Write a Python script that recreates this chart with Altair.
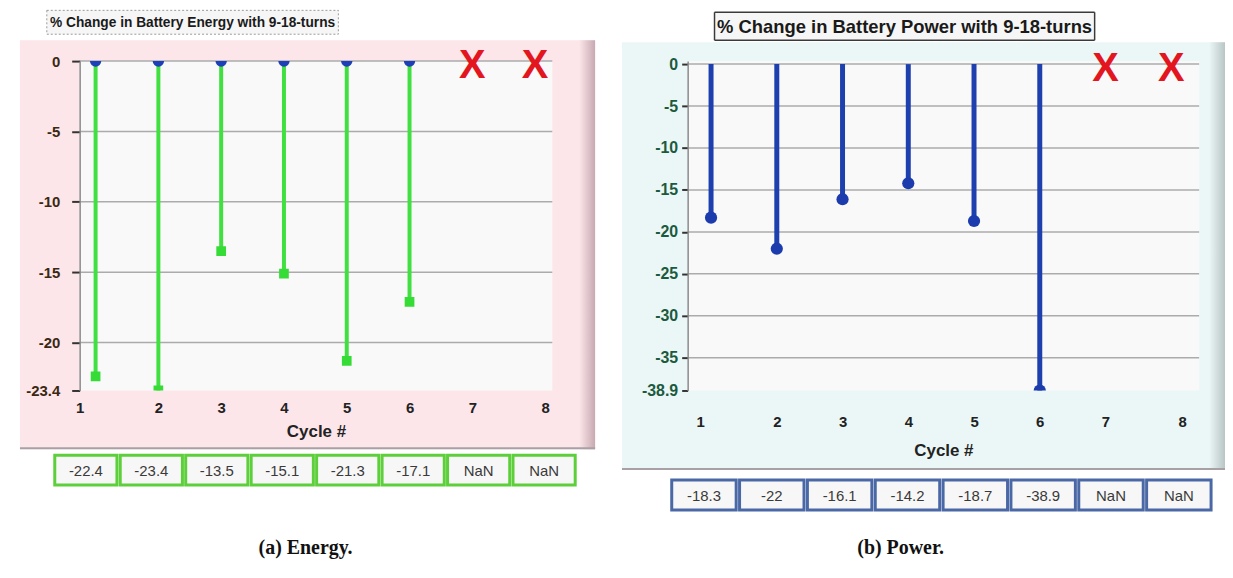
import altair as alt
import pandas as pd

cycles = [1, 2, 3, 4, 5, 6, 7, 8]
energy = [-22.4, -23.4, -13.5, -15.1, -21.3, -17.1, None, None]
power = [-18.3, -22.0, -16.1, -14.2, -18.7, -38.9, None, None]
energy_ticks = [0, -5, -10, -15, -20, -23.4]
power_ticks = [0, -5, -10, -15, -20, -25, -30, -35, -38.9]
titles = ["% Change in Battery Energy with 9-18-turns",
          "% Change in Battery Power with 9-18-turns"]
captions = ["(a) Energy.", "(b) Power."]
x_title = "Cycle #"

SANS = "'Liberation Sans', Arial, sans-serif"
SERIF = "'Liberation Serif', 'Times New Roman', serif"


def fmt(v):
    return "NaN" if v is None else f"{v:g}"


def panel(vals, ticks, title, caption, c):
    W, H = c["W"], c["H"]
    df = pd.DataFrame({"cycle": cycles, "value": vals})
    df["label"] = [fmt(v) for v in vals]
    df["zero"] = 0.0
    grid_df = pd.DataFrame({"tick": ticks[:-1]})

    xs = alt.Scale(domain=c["xdom"], nice=False, zero=False)
    ys = alt.Scale(domain=c["ydom"], nice=False, zero=False)
    xaxis = alt.Axis(
        values=cycles, title=x_title, grid=False, domain=False, ticks=False, zindex=2,
        labelFont=SANS, labelFontSize=15, labelFontWeight="bold", labelColor="#222222",
        labelPadding=c["lpad"], titleFont=SANS, titleFontSize=17, titleFontWeight="bold",
        titleColor="#222222", titlePadding=c["tpad"],
        labelOffset={"condition": [{"test": "datum.value == 1", "value": c["off1"]},
                                   {"test": "datum.value == 8", "value": c["off8"]}],
                     "value": 0},
    )
    yaxis = alt.Axis(
        values=ticks, title=None, grid=False, zindex=2,
        domain=True, domainColor="#8a8a8a", domainWidth=1.5,
        ticks=True, tickSize=c["ytick"], tickColor="#333333", tickWidth=2,
        labelFont=SANS, labelFontSize=c["yfs"], labelFontWeight="bold", labelColor=c["ylab"],
        labelPadding=c["ylpad"], labelExpr="datum.value + ''",
    )
    X = alt.X("cycle:Q", scale=xs, axis=xaxis)
    Y = alt.Y("value:Q", scale=ys, axis=yaxis)
    Y0 = alt.Y("zero:Q", scale=ys, axis=yaxis)

    deco = alt.Chart(pd.DataFrame({"title": [title], "caption": [caption]}))
    bg = deco.mark_rect(fill=c["bg"]).encode(
        x=alt.value(c["bg_x"][0]), x2=alt.value(c["bg_x"][1]),
        y=alt.value(c["bg_y"][0]), y2=alt.value(c["bg_y"][1]))
    edge = deco.mark_rect(fill={"gradient": "linear", "x1": 0, "x2": 1, "y1": 0, "y2": 0,
                                "stops": [{"offset": 0, "color": c["bg"]},
                                          {"offset": 1, "color": c["edge"]}]}).encode(
        x=alt.value(c["bg_x"][1] - 16), x2=alt.value(c["bg_x"][1]),
        y=alt.value(c["bg_y"][0]), y2=alt.value(c["bg_y"][1]))
    bottom = deco.mark_rect(fill="#a8a0a4").encode(
        x=alt.value(c["bg_x"][0]), x2=alt.value(c["bg_x"][1]),
        y=alt.value(c["bg_y"][1] - 2), y2=alt.value(c["bg_y"][1]))
    plotbg = deco.mark_rect(fill="#f9f9fa").encode(
        x=alt.value(0), x2=alt.value(W), y=alt.value(0), y2=alt.value(H))
    tbox = deco.mark_rect(fill="#f6f6f6", stroke=c["tstroke"], strokeWidth=c["tsw"],
                          strokeDash=c["tdash"]).encode(
        x=alt.value(c["tb_x"][0]), x2=alt.value(c["tb_x"][1]),
        y=alt.value(c["tb_y"][0]), y2=alt.value(c["tb_y"][1]))
    ttext = deco.mark_text(font=SANS, fontSize=c["tfs"], fontWeight="bold", color="#1a1a1a",
                           align="center", baseline="middle").encode(
        x=alt.value((c["tb_x"][0] + c["tb_x"][1]) / 2),
        y=alt.value((c["tb_y"][0] + c["tb_y"][1]) / 2 + 1), text="title:N")
    cap = deco.mark_text(font=SERIF, fontSize=20, fontWeight="bold", color="#111111",
                         align="center", baseline="middle").encode(
        x=alt.value(c["cap"][0]), y=alt.value(c["cap"][1]), text="caption:N")

    base = alt.Chart(df)
    valid = base.transform_filter("isValid(datum.value)")
    missing = base.transform_filter("!isValid(datum.value)")
    grid = alt.Chart(grid_df).mark_rule(color=c["grid"], strokeWidth=1.5).encode(
        x=alt.value(0), x2=alt.value(W), y=alt.Y("tick:Q", scale=ys, axis=yaxis))
    stems = valid.mark_rule(color=c["stem"], strokeWidth=c["stem_w"]).encode(
        x=X, y=Y, y2="zero:Q")
    layers = [grid, stems]
    if c.get("top_shape"):
        layers.append(valid.mark_point(shape=c["top_shape"], filled=True, opacity=1,
                                       size=c["top_size"], color=c["top_col"], clip=True)
                      .encode(x=X, y=Y0))
    layers.append(valid.mark_point(shape=c["bot_shape"], filled=True, opacity=1,
                                   size=c["bot_size"], color=c["bot_col"], clip=True)
                  .encode(x=X, y=Y))
    layers.append(missing.mark_text(text="X", font=SANS, fontSize=40, fontWeight="bold",
                                    color="#e3151f", baseline="middle", dy=5)
                  .encode(x=X, y=Y0))
    main = alt.layer(*layers)

    bx = alt.X("cycle:O", axis=None,
               scale=alt.Scale(type="band", range=c["box_x"], paddingInner=0.05, paddingOuter=0))
    boxes = base.mark_rect(fill="#f7f7f7", stroke=c["box_col"], strokeWidth=3).encode(
        x=bx, y=alt.value(c["box_y"][0]), y2=alt.value(c["box_y"][1]))
    btext = base.mark_text(font=SANS, fontSize=15, color="#3a3a3a", baseline="middle").encode(
        x=bx, y=alt.value((c["box_y"][0] + c["box_y"][1]) / 2 + 1), text="label:N")
    boxl = alt.layer(boxes, btext)

    return alt.layer(bg, edge, bottom, plotbg, tbox, ttext, cap, main, boxl).resolve_scale(
        x="independent").properties(width=W, height=H)


left_cfg = dict(
    W=475, H=331, xdom=[0.746, 8.274], ydom=[-23.4, 0],
    bg="#fce6ea", edge="#c7a9b1", bg_x=[-60, 518], bg_y=[-21, 390],
    tb_x=[-33, 260], tb_y=[-51, -27], tstroke="#9a9a9a", tsw=1, tdash=[2, 2], tfs=13.8,
    cap=[227, 489], box_x=[-25, 498], box_y=[396, 426], box_col="#5ccf3a",
    lpad=10, tpad=8, off1=-16, off8=10, ylab="#3a2812", grid="#ababab",
    ytick=8, ylpad=12, yfs=15,
    stem="#3fe03f", stem_w=4,
    top_shape="circle", top_size=130, top_col="#1d3fb8",
    bot_shape="square", bot_size=95, bot_col="#36dc36",
)
right_cfg = dict(
    W=514, H=331, xdom=[0.644, 8.424], ydom=[-38.9, 0.36],
    bg="#ebf7f6", edge="#b9c6c6", bg_x=[-66, 540], bg_y=[-19, 411],
    tb_x=[27, 409], tb_y=[-49, -21], tstroke="#3a3a3a", tsw=1.5, tdash=[1, 0], tfs=18.5,
    cap=[214, 489], box_x=[-16, 526], box_y=[421, 451], box_col="#4a68a6",
    lpad=24, tpad=13, off1=-11, off8=11, ylab="#1c5a3e", grid="#ababab",
    ytick=6, ylpad=4, yfs=16,
    stem="#1e3fae", stem_w=5,
    bot_shape="circle", bot_size=150, bot_col="#1c3cae",
)

left = panel(energy, energy_ticks, titles[0], captions[0], left_cfg)
right = panel(power, power_ticks, titles[1], captions[1], right_cfg)

chart = alt.hconcat(left, right, spacing=136, bounds="flush").properties(
    padding={"left": 12, "top": 0, "right": 0, "bottom": 0},
    background="white",
).configure_view(stroke=None)

chart.save("out.html", embed_options={"renderer": "svg", "actions": False})
